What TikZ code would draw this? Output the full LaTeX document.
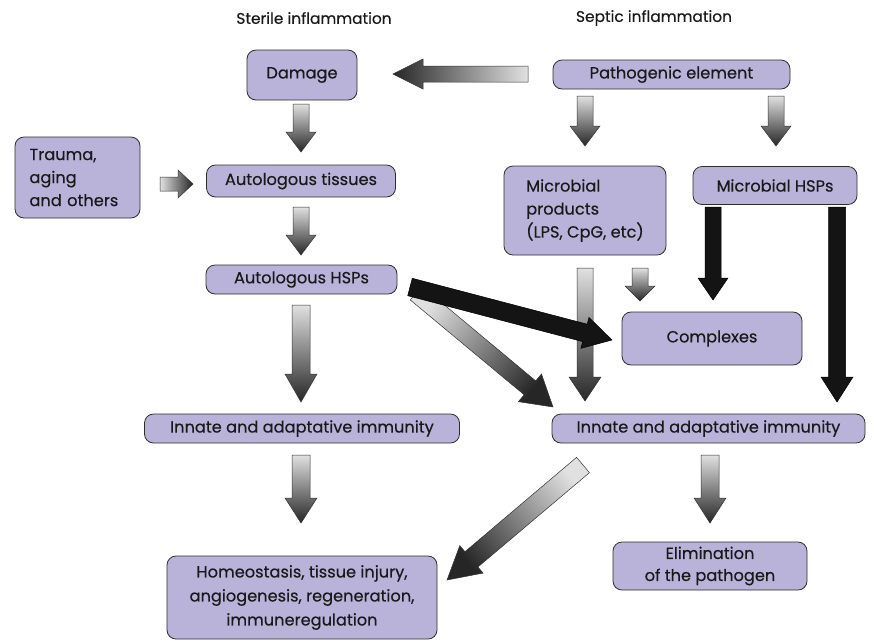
\documentclass[tikz,border=0pt]{standalone}
\usepackage{fontspec}
\setmainfont{Poppins}[FakeBold=0.35]
\usetikzlibrary{calc}
\definecolor{boxfill}{RGB}{186,179,217}
\definecolor{boxline}{RGB}{45,45,45}
\definecolor{txt}{RGB}{25,25,25}
\tikzset{
  box/.style={draw=boxline, fill=boxfill, rounded corners=9pt, line width=0.8pt,
    text=txt, font=\fontsize{16.2}{23}\selectfont, inner sep=0pt},
  hdr/.style={font=\fontsize{15.4}{18}\selectfont, text=txt},
  garrow/.style={draw=black!80, line width=0.5pt, top color=black!85, bottom color=black!12},
  barrow/.style={draw=black, line width=0.5pt, fill=black!92},
}
\newcommand\blkarrow[6]{%
  \coordinate (hb) at ($(#2)!#5!(#1)$);
  \path[#6] ($(#1)!#3!90:(#2)$) -- ($(hb)!#3!90:(#2)$) -- ($(hb)!#4!90:(#2)$) -- (#2)
    -- ($(hb)!#4!-90:(#2)$) -- ($(hb)!#3!-90:(#2)$) -- ($(#1)!#3!-90:(#2)$) -- cycle;
}
\begin{document}
\begin{tikzpicture}[x=1pt,y=-1pt]
\useasboundingbox (0,0) rectangle (874,641);
% headers
\node[hdr] (sterile) at (314,18) {Sterile inflammation};
\node[hdr] (septic) at (654,18) {Septic inflammation};
% boxes
\node[box, minimum width=110pt, minimum height=50pt] (damage) at (302,75) {Damage};
\node[box, minimum width=237pt, minimum height=29pt] (patho) at (671.5,74.5) {Pathogenic element};
\node[box, minimum width=125pt, minimum height=81pt, align=left, text width=96pt, inner xsep=14.5pt] (trauma) at (77.5,177.5) {Trauma,\\aging\\and others};
\node[box, minimum width=189pt, minimum height=32pt] (auttis) at (301,181) {Autologous tissues};
\node[box, minimum width=162pt, minimum height=89pt, align=left] (micprod) at (585,210.5) {Microbial\\products\\(LPS, CpG, etc)};
\node[box, minimum width=164pt, minimum height=38pt] (michsp) at (775,185.5) {Microbial HSPs};
\node[box, minimum width=191pt, minimum height=29pt] (authsp) at (301.5,279.5) {Autologous HSPs};
\node[box, minimum width=180pt, minimum height=53pt] (complex) at (712,338.5) {Complexes};
\node[box, minimum width=315pt, minimum height=29pt] (innL) at (302,428.5) {Innate and adaptative immunity};
\node[box, minimum width=313pt, minimum height=29pt] (innR) at (708.5,428.5) {Innate and adaptative immunity};
\node[box, minimum width=270pt, minimum height=83pt, align=center, font=\fontsize{16.2}{24}\selectfont] (homeo) at (302,597.5) {Homeostasis, tissue injury,\\angiogenesis, regeneration,\\immuneregulation};
\node[box, minimum width=194pt, minimum height=48pt, align=center, font=\fontsize{16.2}{22}\selectfont] (elim) at (710,566) {Elimination\\of the pathogen};
% arrow end points
\coordinate (a1t) at (528,74);   \coordinate (a1h) at (393,74);
\coordinate (a2t) at (301,104);  \coordinate (a2h) at (301,152);
\coordinate (a3t) at (160,184);  \coordinate (a3h) at (193,184);
\coordinate (a4t) at (301,207);  \coordinate (a4h) at (301,255);
\coordinate (a5t) at (585,96);   \coordinate (a5h) at (585,146);
\coordinate (a6t) at (776,96);   \coordinate (a6h) at (776,146);
\coordinate (a7t) at (301,305);  \coordinate (a7h) at (301,402);
\coordinate (a8t) at (640,268);  \coordinate (a8h) at (640,301);
\coordinate (a9t) at (585,268);  \coordinate (a9h) at (585,401);
\coordinate (a10t) at (416,293); \coordinate (a10h) at (553,407);
\coordinate (a11t) at (410,287); \coordinate (a11h) at (612,340);
\coordinate (a12t) at (713,207); \coordinate (a12h) at (713,300);
\coordinate (a13t) at (837,207); \coordinate (a13h) at (837,402);
\coordinate (a14t) at (301,455); \coordinate (a14h) at (301,523);
\coordinate (a15t) at (710,455); \coordinate (a15h) at (710,523);
\coordinate (a16t) at (583,465); \coordinate (a16h) at (447,580);
% arrows
\blkarrow{a1t}{a1h}{8pt}{15pt}{30pt}{garrow, shading angle=90}
\blkarrow{a2t}{a2h}{8pt}{15pt}{20pt}{garrow, shading angle=180}
\blkarrow{a3t}{a3h}{7pt}{14pt}{15pt}{garrow, shading angle=-90}
\blkarrow{a4t}{a4h}{8pt}{15pt}{20pt}{garrow, shading angle=180}
\blkarrow{a5t}{a5h}{8pt}{15pt}{20pt}{garrow, shading angle=180}
\blkarrow{a6t}{a6h}{8pt}{15pt}{20pt}{garrow, shading angle=180}
\blkarrow{a7t}{a7h}{9pt}{16pt}{28pt}{garrow, shading angle=180}
\blkarrow{a8t}{a8h}{8pt}{15pt}{15pt}{garrow, shading angle=180}
\blkarrow{a9t}{a9h}{8pt}{16pt}{24pt}{garrow, shading angle=180}
\blkarrow{a10t}{a10h}{9pt}{18pt}{30pt}{garrow, shading angle=-130}
\blkarrow{a11t}{a11h}{9pt}{16pt}{28pt}{barrow}
\blkarrow{a12t}{a12h}{8pt}{15pt}{22pt}{barrow}
\blkarrow{a13t}{a13h}{8.5pt}{16pt}{25pt}{barrow}
\blkarrow{a14t}{a14h}{9pt}{16pt}{25pt}{garrow, shading angle=180}
\blkarrow{a15t}{a15h}{9pt}{16pt}{25pt}{garrow, shading angle=180}
\blkarrow{a16t}{a16h}{10pt}{18pt}{32pt}{garrow, shading angle=130}
\end{tikzpicture}
\end{document}
